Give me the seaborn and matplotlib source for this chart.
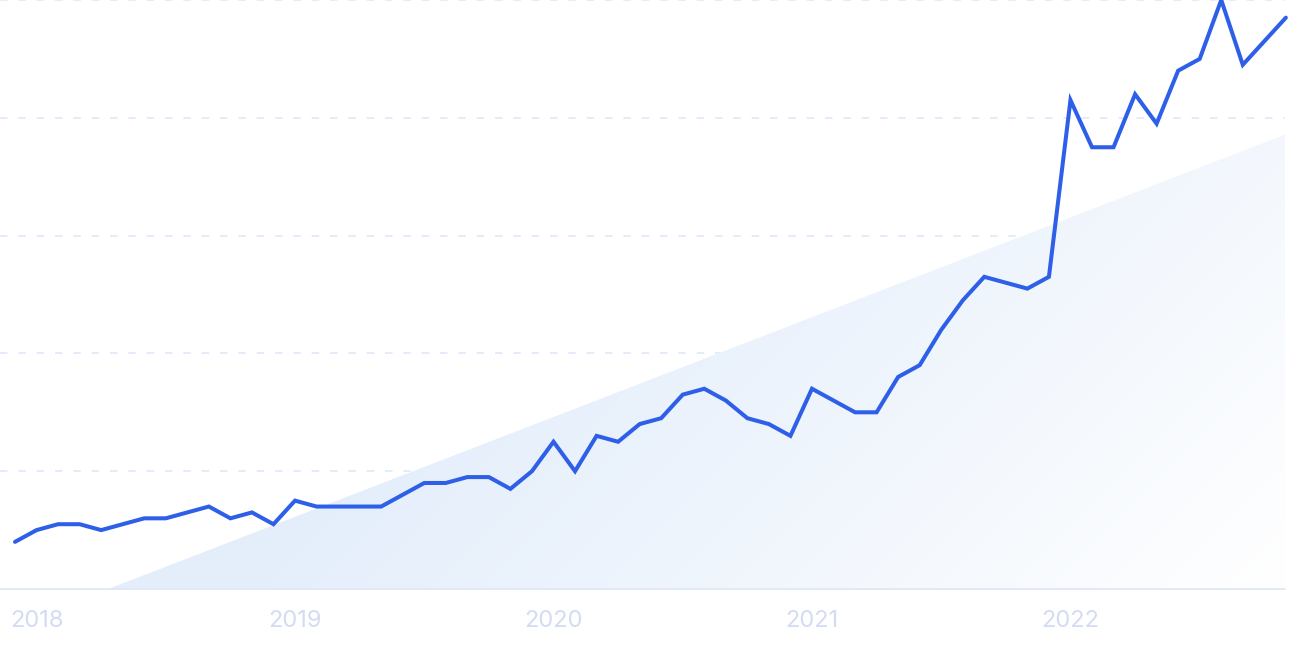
import numpy as np
import pandas as pd
import matplotlib
matplotlib.use("Agg")
import matplotlib.pyplot as plt
import seaborn as sns
from matplotlib.colors import to_rgb

# ---- data ----
months = pd.date_range("2017-12-01", periods=60, freq="MS")
values = [8, 10, 11, 11, 10, 11, 12, 12, 13, 14, 12, 13,
          11, 15, 14, 14, 14, 14, 16, 18, 18, 19, 19, 17,
          20, 25, 20, 26, 25, 28, 29, 33, 34, 32, 29, 28,
          26, 34, 32, 30, 30, 36, 38, 44, 49, 53, 52, 51,
          53, 83, 75, 75, 84, 79, 88, 90, 100, 89, 93, 97]
year_labels = ["2018", "2019", "2020", "2021", "2022"]
trend_start = -6.1   # trend value at first month
trend_end = 77.2     # trend value at last month

sns.set_theme(style="white")
plt.rcParams['font.family'] = ['Inter', 'DejaVu Sans']

W, H = 1290, 645
fig = plt.figure(figsize=(W / 100, H / 100), dpi=100)
ax_left, ax_right, ax_top, ax_bot = 0, 1285, 0, 589
ax = fig.add_axes([ax_left / W, 1 - ax_bot / H, (ax_right - ax_left) / W, (ax_bot - ax_top) / H])

idx = np.arange(len(values))
df = pd.DataFrame({"i": idx, "value": values})
px_per_month = 21.54
x0 = -15 / px_per_month
x1 = x0 + (ax_right - ax_left) / px_per_month
ax.set_xlim(x0, x1)
ax.set_ylim(0, 100)

# trend fill with diagonal gradient
trend = np.linspace(trend_start, trend_end, len(values))
poly = ax.fill_between(idx, 0, trend, color="none", lw=0, zorder=1)
gw, gh = ax_right - ax_left, ax_bot - ax_top
xx, yy = np.meshgrid(np.arange(gw), np.arange(gh))
t = np.clip(0.00095 * (xx - 250) + 0.00095 * (yy - 570), 0, 1)[..., None]
c0 = np.array(to_rgb("#e4eefb"))
c1 = np.array(to_rgb("#ffffff"))
img = c0 * (1 - t) + c1 * t
im = ax.imshow(img, extent=(x0, x1, 0, 100), origin="upper", aspect="auto", zorder=1,
               interpolation="bilinear")
im.set_clip_path(poly.get_paths()[0], transform=ax.transData)

# gridlines
for g in [20, 40, 60, 80, 100]:
    ax.axhline(g, color="#dfe8fb", lw=1.2, dashes=(4.5, 6.5), zorder=0, clip_on=False)
ax.axhline(0, color="#dde5f7", lw=1.2, zorder=2, clip_on=False)

sns.lineplot(data=df, x="i", y="value", ax=ax, color="#2e5fe8", lw=2.9, zorder=3,
             clip_on=False, solid_joinstyle="miter")

ax.set_xticks([1, 13, 25, 37, 49])
ax.set_xticklabels(year_labels, fontsize=17, color="#d3dcf3")
ax.tick_params(axis="x", length=0, pad=15)
ax.set_yticks([])
ax.set_xlabel("")
ax.set_ylabel("")
for s in ax.spines.values():
    s.set_visible(False)
ax.set_facecolor("none")

fig.savefig("out.png", dpi=100, facecolor="white")
